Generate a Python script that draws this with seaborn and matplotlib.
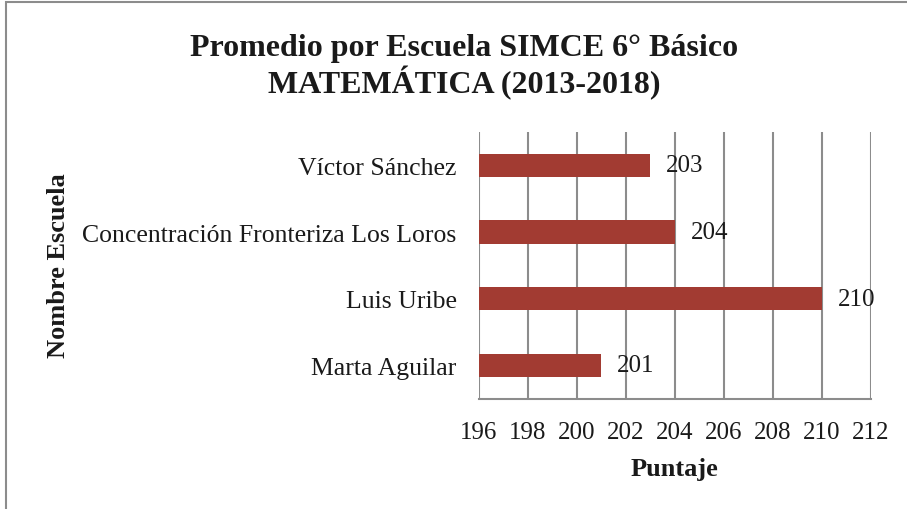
import matplotlib
matplotlib.use("Agg")
import matplotlib.pyplot as plt
import seaborn as sns
import pandas as pd
from matplotlib.patches import Rectangle

escuelas = ["Víctor Sánchez", "Concentración Fronteriza Los Loros", "Luis Uribe", "Marta Aguilar"]
puntajes = [203, 204, 210, 201]
xticks = [196, 198, 200, 202, 204, 206, 208, 210, 212]

sns.set_theme(style="white")
plt.rcParams['font.family'] = ['Liberation Serif', 'DejaVu Serif']

df = pd.DataFrame({"Escuela": escuelas, "Puntaje": puntajes})

fig = plt.figure(figsize=(9.07, 5.10), dpi=100)
ax = fig.add_axes([0.528, 0.216, 0.432, 0.523])

base = 196
sns.barplot(data=df, y="Escuela", x="Puntaje", orient="h", color="#A23B32",
            saturation=1, width=0.35, ax=ax, zorder=3)
for p in ax.patches:
    w = p.get_width()
    p.set_x(base)
    p.set_width(w - base)
    p.set_edgecolor("none")

ax.set_xlim(196, 212)
ax.set_xticks(xticks)
ax.set_xticklabels([str(t) for t in xticks], fontsize=18)
ax.tick_params(axis='x', length=0, pad=16)
ax.tick_params(axis='y', length=0, pad=16, labelsize=18.5)
for t in ax.get_xticklabels() + ax.get_yticklabels():
    t.set_color("#1a1a1a")
ax.grid(axis='x', color="#8c8c8c", linewidth=1.5, zorder=0)
ax.set_axisbelow(True)
for s in ["top", "right", "left"]:
    ax.spines[s].set_visible(False)
ax.spines["bottom"].set_color("#8c8c8c")
ax.spines["bottom"].set_linewidth(1.5)

for i, v in enumerate(puntajes):
    ax.text(v + 0.65, i, str(v), va="center", ha="left", fontsize=18, color="#1a1a1a", zorder=4)

ax.set_xlabel("Puntaje", fontsize=19, fontweight="bold", labelpad=10, color="#1a1a1a")
ax.set_ylabel("")
fig.text(0.064, 0.48, "Nombre Escuela", rotation=90, fontsize=19, fontweight="bold",
         ha="center", va="center", color="#1a1a1a")

fig.text(0.512, 0.868, "Promedio por Escuela SIMCE 6° Básico\nMATEMÁTICA (2013-2018)",
         ha="center", va="center", fontsize=23, fontweight="bold", linespacing=1.12, color="#1a1a1a")

fig.patches.append(Rectangle((0.007, -0.01), 1.0, 1.004, transform=fig.transFigure,
                             fill=False, edgecolor="#8c8c8c", linewidth=1.5))

fig.savefig("out.png", dpi=100)
